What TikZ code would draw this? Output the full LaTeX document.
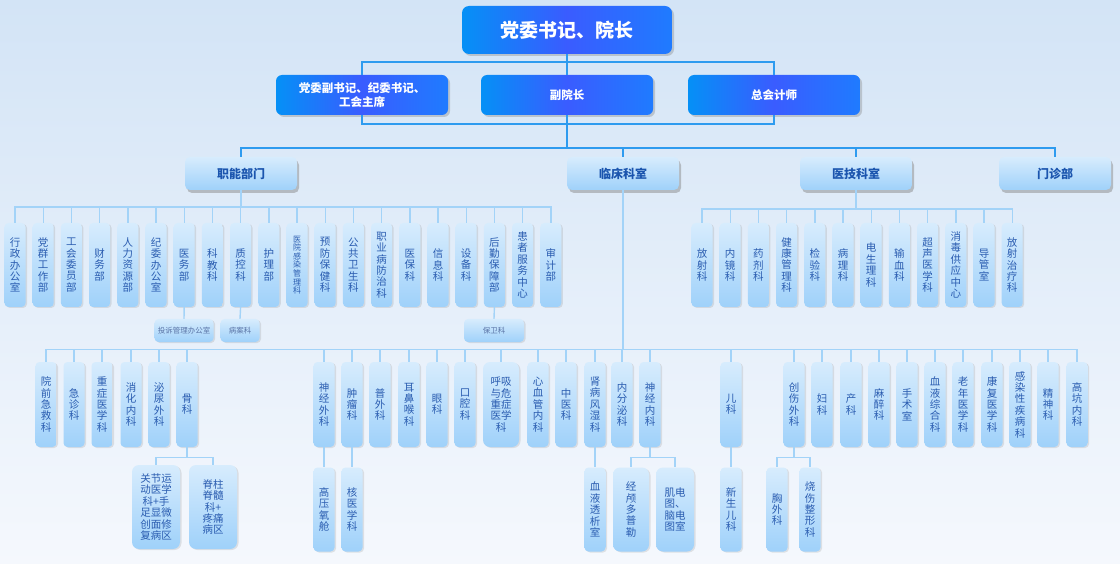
\documentclass[tikz,border=0pt]{standalone}
\usepackage{fontspec}
\setmainfont{Noto Sans CJK SC}
\usetikzlibrary{shadows, positioning}
\definecolor{skytop}{HTML}{D3E4F6}
\definecolor{skybot}{HTML}{F5F8FD}
\definecolor{lineA}{HTML}{2E9BEF}
\definecolor{lineB}{HTML}{A3D3F8}
\definecolor{boxA}{HTML}{0590F6}
\definecolor{boxB}{HTML}{3A5CFF}
\definecolor{boxC}{HTML}{1F7BFF}
\definecolor{paleT}{HTML}{D7ECFD}
\definecolor{paleB}{HTML}{9FD1FA}
\definecolor{deptxt}{HTML}{2A5CB0}
\definecolor{headtxt}{HTML}{1B55AE}
\definecolor{subtxt}{HTML}{5A74A6}
% 竖排文字：每个字一行
\makeatletter
\def\vc@loop#1{\ifx#1\relax\else\hbox to 1em{\hss#1\hss}\expandafter\vc@loop\fi}
\newcommand{\vchars}[1]{\edef\vc@s{#1}\vbox{\expandafter\vc@loop\vc@s\relax}}
\makeatother
\tikzset{
  % 领导层方框
  lead/.style={rounded corners=7pt, left color=boxA, right color=boxC, middle color=boxB,
    text=white, font=\fontsize{19}{22}\selectfont\bfseries, minimum width=210pt,
    minimum height=48pt, drop shadow={shadow xshift=2pt, shadow yshift=-2pt, opacity=.35}},
  vice/.style={lead, rounded corners=6pt, font=\fontsize{11.5}{14}\selectfont\bfseries,
    minimum width=172pt, minimum height=40pt, align=center},
  % 部门方框
  head/.style={rounded corners=5pt, top color=paleT, bottom color=paleB, text=headtxt,
    font=\fontsize{12}{14}\selectfont\bfseries, minimum width=112pt, minimum height=33pt,
    drop shadow={shadow xshift=2pt, shadow yshift=-3pt, opacity=.45}},
  % 科室方框
  dept/.style={rounded corners=4pt, top color=paleT, bottom color=paleB, text=deptxt,
    font=\fontsize{10.5}{11.4}\selectfont, minimum width=21pt, minimum height=84pt,
    inner sep=1pt, drop shadow={shadow xshift=1.5pt, shadow yshift=-1pt, opacity=.2}},
  wide/.style={dept, rounded corners=7pt, align=center},
  tiny/.style={dept, font=\fontsize{7.5}{9}\selectfont, text=subtxt, minimum height=23pt},
  % 连线
  topline/.style={lineA, line width=2pt},
  subline/.style={lineB, line width=1.4pt},
}

\begin{document}
\begin{tikzpicture}[x=1pt, y=-1pt]
  \fill[top color=skytop, bottom color=skybot] (0,0) rectangle (1120,564);
  \useasboundingbox (0,0) rectangle (1120,564);

  % 领导层
  \node[lead] (sj) at (567,30) {党委书记、院长};
  \node[vice] (fsj) at (362,95) {党委副书记、纪委书记、\\工会主席};
  \node[vice] (fyz) at (567,95) {副院长};
  \node[vice] (zkj) at (774,95) {总会计师};
  \draw[topline] (sj.south) -- (fyz.north);
  \draw[topline] (sj.south) -- ++(0,8) -| (fsj.north);
  \draw[topline] (sj.south) -- ++(0,8) -| (zkj.north);
  \draw[topline] (fsj.south) -- ++(0,9) -| (zkj.south);

  % 部门
  \node[head] (znbm) at (241,173.5) {职能部门};
  \node[head] (lcks) at (623,173.5) {临床科室};
  \node[head] (yjks) at (856,173.5) {医技科室};
  \node[head] (mzb) at (1055,173.5) {门诊部};
  \foreach \h in {znbm,lcks,yjks,mzb}
    \draw[topline] (fyz.south) -- ++(0,33) -| (\h.north);

  % 职能部门
  \foreach \t [count=\i] in {行政办公室,党群工作部,工会委员部,财务部,人力资源部,纪委办公室,医务部,科教科,质控科,护理部}
    \node[dept] (zn\i) at ({15+(\i-1)*28.2},265) {\vchars{\t}};
  \node[dept, font=\fontsize{8}{8.6}\selectfont] (zn11) at (297,265) {\vchars{医院感染管理科}};
  \foreach \t [count=\i from 12] in {预防保健科,公共卫生科,职业病防治科,医保科,信息科,设备科,后勤保障部,患者服务中心,审计部}
    \node[dept] (zn\i) at ({15+(\i-1)*28.2},265) {\vchars{\t}};
  \foreach \i in {1,...,20}
    \draw[subline] (znbm.south) -- ++(0,17) -| (zn\i.north);
  \node[tiny, minimum width=59pt] (tsb) at (184,330.5) {投诉管理办公室};
  \node[tiny, minimum width=39pt] (bak) at (240,330.5) {病案科};
  \node[tiny, minimum width=60pt] (bwk) at (494,330.5) {保卫科};
  \draw[subline] (zn7.south) -- (tsb.north);
  \draw[subline] (zn9.south) -- (bak.north);
  \draw[subline] (zn18.south) -- (bwk.north);

  % 医技科室
  \foreach \t [count=\i] in {放射科,内镜科,药剂科,健康管理科,检验科,病理科,电生理科,输血科,超声医学科,消毒供应中心,导管室,放射治疗科} {
    \node[dept] (yj\i) at ({702+(\i-1)*28.2},265) {\vchars{\t}};
    \draw[subline] (yjks.south) -- ++(0,19) -| (yj\i.north);
  }

  % 临床科室
  \foreach \x/\t [count=\i] in {46/院前急救科,74/急诊科,102/重症医学科,131/消化内科,159/泌尿外科,187/骨科,324/神经外科,352/肿瘤科,380/普外科,409/耳鼻喉科,437/眼科,465/口腔科,538/心血管内科,566/中医科,595/肾病风湿科,622/内分泌科,650/神经内科,731/儿科,794/创伤外科,822/妇科,851/产科,879/麻醉科,907/手术室,935/血液综合科,963/老年医学科,992/康复医学科,1020/感染性疾病科,1048/精神科,1077/高坑内科} {
    \node[dept, minimum height=85pt] (lc\i) at (\x,404.5) {\vchars{\t}};
    \draw[subline] (lcks.south) -- ++(0,159) -| (lc\i.north);
  }
  \node[wide, minimum width=36pt, minimum height=85pt] (hxk) at (501,404.5) {呼吸\\与危\\重症\\医学\\科};
  \draw[subline] (lcks.south) -- ++(0,159) -| (hxk.north);

  % 下属病区
  \node[wide, minimum width=48pt] (gk1) at (156,507) {关节运\\动医学\\科+手\\足显微\\创面修\\复病区};
  \node[wide, minimum width=48pt] (gk2) at (213,507) {脊柱\\脊髓\\科+\\疼痛\\病区};
  \draw[subline] (lc6.south) -- ++(0,10) -| (gk1.north);
  \draw[subline] (lc6.south) -- ++(0,10) -| (gk2.north);
  \node[dept] (gyc) at (324,509.5) {\vchars{高压氧舱}};
  \node[dept] (hyx) at (352,509.5) {\vchars{核医学科}};
  \node[dept] (xytx) at (595,509.5) {\vchars{血液透析室}};
  \node[dept, minimum width=36pt, rounded corners=7pt] (jldp) at (631,509.5) {\vchars{经颅多普勒}};
  \node[wide, minimum width=38pt, minimum height=84pt] (jdt) at (675,509.5) {肌电\\图、\\脑电\\图室};
  \node[dept] (xsek) at (731,509.5) {\vchars{新生儿科}};
  \node[dept] (xwk) at (777,509.5) {\vchars{胸外科}};
  \node[dept] (sszx) at (810,509.5) {\vchars{烧伤整形科}};
  \draw[subline] (lc7.south) -- (gyc.north);
  \draw[subline] (lc8.south) -- (hyx.north);
  \draw[subline] (lc15.south) -- (xytx.north);
  \draw[subline] (lc17.south) -- ++(0,10) -| (jldp.north);
  \draw[subline] (lc17.south) -- ++(0,10) -| (jdt.north);
  \draw[subline] (lc18.south) -- (xsek.north);
  \draw[subline] (lc19.south) -- ++(0,10) -| (xwk.north);
  \draw[subline] (lc19.south) -- ++(0,10) -| (sszx.north);
\end{tikzpicture}
\end{document}
